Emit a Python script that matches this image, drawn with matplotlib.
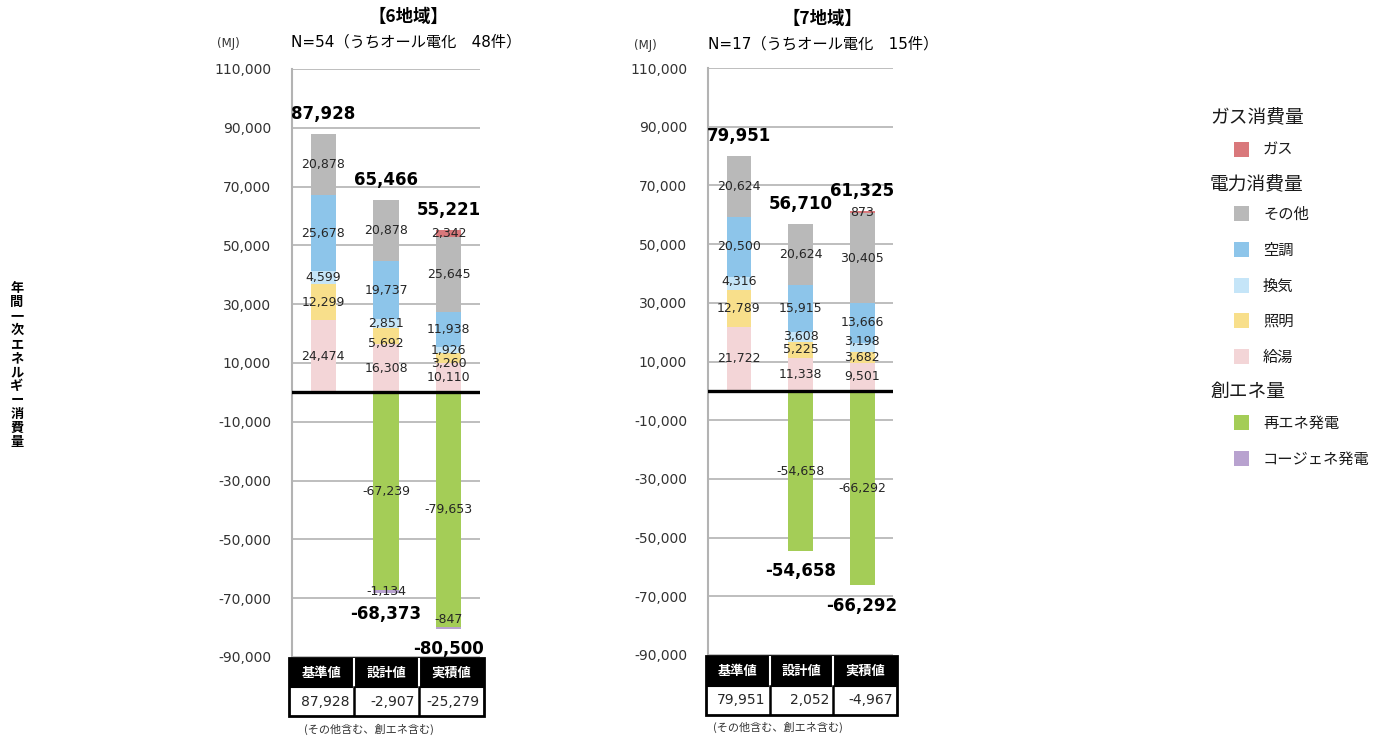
import matplotlib
matplotlib.use("Agg")
import matplotlib.pyplot as plt
from matplotlib.patches import Rectangle
import numpy as np

plt.rcParams['font.family'] = ['DejaVu Sans', 'Noto Sans CJK JP']

categories = ['基準値', '設計値', '実積値']

# 6地域
r6_hot_water = [24474, 16308, 10110]
r6_lighting = [12299, 5692, 3260]
r6_ventilation = [4599, 2851, 1926]
r6_hvac = [25678, 19737, 11938]
r6_other = [20878, 20878, 25645]
r6_gas = [0, 0, 2342]
r6_renewable = [0, -67239, -79653]
r6_cogen = [0, -1134, -847]

# 7地域
r7_hot_water = [21722, 11338, 9501]
r7_lighting = [12789, 5225, 3682]
r7_ventilation = [4316, 3608, 3198]
r7_hvac = [20500, 15915, 13666]
r7_other = [20624, 20624, 30405]
r7_gas = [0, 0, 873]
r7_renewable = [0, -54658, -66292]
r7_cogen = [0, 0, 0]

yticks = [110000, 90000, 70000, 50000, 30000, 10000, -10000, -30000, -50000, -70000, -90000]

COLORS = {
    'gas': '#d9787b', 'other': '#b9b9b9', 'hvac': '#8dc5ea', 'vent': '#c5e5f8',
    'light': '#f8df8b', 'hot': '#f3d5d7', 'renew': '#a4cd57', 'cogen': '#b8a2cf',
}
TXT = '#262626'

fig = plt.figure(figsize=(13.84, 7.36), dpi=100)
W, H = 1384, 736


def fx(px):
    return px / W


def fy(py):
    return 1 - py / H


def draw_panel(rect, series, nudges, title, ntext, mj_xy, title_xy, n_xy, table_rect, note_xy):
    ax = fig.add_axes(rect)
    x = np.arange(len(categories))
    bw = 0.4
    pos_keys = ['hot', 'light', 'vent', 'hvac', 'other', 'gas']
    neg_keys = ['renew', 'cogen']
    pos_bottom = np.zeros(3)
    neg_bottom = np.zeros(3)
    for k in pos_keys:
        v = np.array(series[k], dtype=float)
        ax.bar(x, v, bw, bottom=pos_bottom, color=COLORS[k], zorder=2)
        for i in range(3):
            if v[i] != 0:
                dy = nudges.get((k, i), 0)
                ax.annotate(f"{int(v[i]):,}", (x[i], pos_bottom[i] + v[i] / 2),
                            xytext=(0, dy), textcoords='offset points',
                            ha='center', va='center', fontsize=9, color=TXT, zorder=4)
        pos_bottom += v
    for k in neg_keys:
        v = np.array(series[k], dtype=float)
        ax.bar(x, v, bw, bottom=neg_bottom, color=COLORS[k], zorder=2)
        for i in range(3):
            if v[i] != 0:
                dy = nudges.get((k, i), 0)
                ax.annotate(f"{int(v[i]):,}", (x[i], neg_bottom[i] + v[i] / 2),
                            xytext=(0, dy), textcoords='offset points',
                            ha='center', va='center', fontsize=9, color=TXT, zorder=4)
        neg_bottom += v
    for i in range(3):
        ax.annotate(f"{int(pos_bottom[i]):,}", (x[i], pos_bottom[i]), xytext=(0, 14.5),
                    textcoords='offset points', ha='center', va='center',
                    fontsize=12, fontweight='bold', color='black', zorder=4)
        if neg_bottom[i] != 0:
            ax.annotate(f"{int(neg_bottom[i]):,}", (x[i], neg_bottom[i]), xytext=(0, -14.5),
                        textcoords='offset points', ha='center', va='center',
                        fontsize=12, fontweight='bold', color='black', zorder=4)
    ax.set_xlim(-0.5, 2.5)
    ax.set_ylim(-90000, 110000)
    ax.set_yticks(yticks)
    ax.set_yticklabels([f"{t:,}" for t in yticks], fontsize=10, color='#333333')
    ax.tick_params(axis='y', length=0, pad=15)
    ax.set_xticks([])
    ax.grid(axis='y', color='#b3b3b3', linewidth=1.2, zorder=0)
    for s in ['top', 'right', 'bottom']:
        ax.spines[s].set_visible(False)
    ax.spines['left'].set_color('#b3b3b3')
    ax.spines['left'].set_linewidth(1.5)
    ax.axhline(0, color='black', linewidth=2.4, zorder=3)

    fig.text(fx(title_xy[0]), fy(title_xy[1]), title, ha='center', va='center',
             fontsize=12.5, fontweight='bold', family=['Noto Sans CJK JP'])
    fig.text(fx(n_xy[0]), fy(n_xy[1]), ntext, ha='left', va='center', fontsize=11,
             family=['DejaVu Sans', 'Noto Sans CJK JP'])
    fig.text(fx(mj_xy[0]), fy(mj_xy[1]), '(MJ)', ha='center', va='center', fontsize=8.5,
             color='#333333')

    # net value table
    tax = fig.add_axes(table_rect)
    tax.set_xlim(0, 3)
    tax.set_ylim(0, 2)
    tax.axis('off')
    net = pos_bottom + neg_bottom
    tax.add_patch(Rectangle((0, 1), 3, 1, facecolor='black', edgecolor='black', lw=0))
    tax.add_patch(Rectangle((0, 0), 3, 2, facecolor='none', edgecolor='black', lw=2.0,
                            clip_on=False))
    tax.axhline(1, color='black', lw=1.5)
    for j in (1, 2):
        tax.plot([j, j], [1, 2], color='white', lw=1.5)
        tax.plot([j, j], [0, 1], color='black', lw=1.8)
    for j, c in enumerate(categories):
        tax.text(j + 0.5, 1.5, c, ha='center', va='center', color='white', fontsize=9.5,
                 fontweight='bold', family=['Noto Sans CJK JP'])
        tax.text(j + 0.93, 0.5, f"{int(net[j]):,}", ha='right', va='center', fontsize=10,
                 color=TXT)
    fig.text(fx(note_xy[0]), fy(note_xy[1]), '(その他含む、創エネ含む)', ha='left', va='center',
             fontsize=8, color='#333333', family=['Noto Sans CJK JP'])
    return ax


s6 = dict(hot=r6_hot_water, light=r6_lighting, vent=r6_ventilation, hvac=r6_hvac,
          other=r6_other, gas=r6_gas, renew=r6_renewable, cogen=r6_cogen)
s7 = dict(hot=r7_hot_water, light=r7_lighting, vent=r7_ventilation, hvac=r7_hvac,
          other=r7_other, gas=r7_gas, renew=r7_renewable, cogen=r7_cogen)

nudge6 = {('light', 1): -5, ('light', 2): -4, ('cogen', 2): 6}
nudge7 = {('vent', 2): 4, ('vent', 0): 1}

draw_panel([fx(292), fy(657), fx(480 - 292), (657 - 69) / H], s6, nudge6,
           '【6地域】', 'N=54（うちオール電化\u300048件）', (228, 44), (408, 17), (291, 42),
           [fx(289), fy(716), fx(484 - 289), (716 - 658) / H], (304, 729))
draw_panel([fx(708), fy(655), fx(893 - 708), (655 - 68) / H], s7, nudge7,
           '【7地域】', 'N=17（うちオール電化\u300015件）', (645, 46), (822, 19), (708, 44),
           [fx(706), fy(715), fx(897 - 706), (715 - 656) / H], (713, 727))

# vertical y-axis title
fig.text(fx(17), fy(365), '\n'.join('年間一次エネルギー消費量'), ha='center', va='center',
         fontsize=9.5, fontweight='bold', linespacing=1.0, family=['Noto Sans CJK JP'])

# legend
legend_items = [
    ('head', 'ガス消費量', 118),
    ('gas', 'ガス', 150),
    ('head', '電力消費量', 185),
    ('other', 'その他', 214),
    ('hvac', '空調', 250),
    ('vent', '換気', 286),
    ('light', '照明', 321),
    ('hot', '給湯', 357),
    ('head', '創エネ量', 391),
    ('renew', '再エネ発電', 423),
    ('cogen', 'コージェネ発電', 459),
]
for key, label, py in legend_items:
    if key == 'head':
        fig.text(fx(1210), fy(py), label, ha='left', va='center', fontsize=13.5,
                 color='#1a1a1a', family=['Noto Sans CJK JP'])
    else:
        fig.patches.append(Rectangle((fx(1234), fy(py + 7)), fx(15), 15 / H,
                                     facecolor=COLORS[key], edgecolor='none',
                                     transform=fig.transFigure, figure=fig))
        fig.text(fx(1263), fy(py), label, ha='left', va='center', fontsize=11,
                 color='#1a1a1a', family=['Noto Sans CJK JP'])

fig.savefig('out.png', dpi=100)
